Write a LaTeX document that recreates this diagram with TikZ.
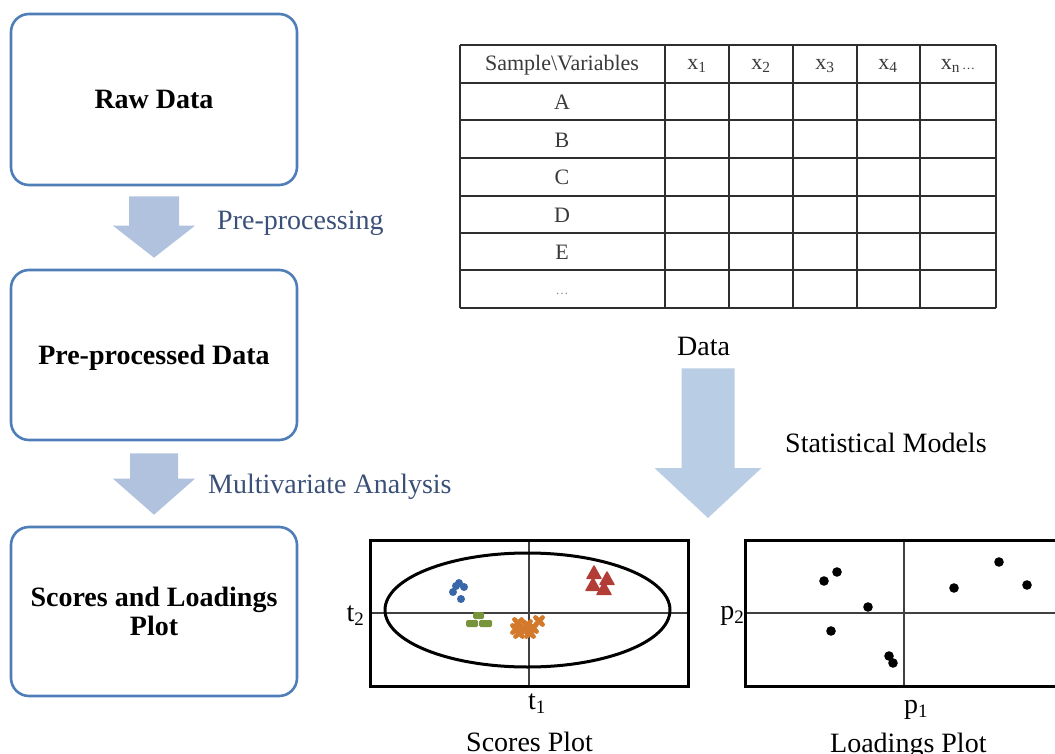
\documentclass[tikz,border=0pt]{standalone}
\usepackage{fontspec}
\setmainfont{Liberation Serif}
\usetikzlibrary{calc}

\definecolor{boxblue}{HTML}{4F7DB8}
\definecolor{arrowblue}{HTML}{B0C2DE}
\definecolor{bigarrowblue}{HTML}{B9CDE5}
\definecolor{labelblue}{HTML}{3B5078}
\definecolor{gridgray}{HTML}{2E2E2E}
\definecolor{celltext}{HTML}{3A3A3A}
\definecolor{markblue}{HTML}{3868A8}
\definecolor{markgreen}{HTML}{77933C}
\definecolor{markorange}{HTML}{D2792B}
\definecolor{markred}{HTML}{B23C36}

% block arrow: #1 style, #2 top centre, #3 tip, #4 shaft half width,
% #5 head half width, #6 head length
\newcommand{\blockarrow}[6]{%
  \fill[#1] ($(#2)+(-#4,0)$) -- ($(#2)+(#4,0)$) -- ($(#3)+(#4,-#6)$)
    -- ($(#3)+(#5,-#6)$) -- (#3) -- ($(#3)+(-#5,-#6)$)
    -- ($(#3)+(-#4,-#6)$) -- cycle;}
% axis label with a lowered index
\newcommand{\axlab}[2]{#1\raisebox{-0.32ex}{\fontsize{19}{19}\selectfont #2}}

\begin{document}
\begin{tikzpicture}[x=1pt,y=-1pt,
  stagebox/.style={draw=boxblue, line width=2.6pt, rounded corners=18pt,
    minimum width=286pt, inner sep=0pt, text depth=0pt,
    font=\fontsize{28}{29}\selectfont\bfseries, align=center},
  steplabel/.style={font=\fontsize{28}{28}\selectfont, text=labelblue, inner sep=0pt},
  caption/.style={font=\fontsize{28}{28}\selectfont, inner sep=0pt},
  tableline/.style={draw=gridgray, line width=1.6pt},
  cell/.style={font=\fontsize{22}{22}\selectfont, text=celltext, inner sep=0pt},
  plotframe/.style={draw=black, line width=3pt},
  crosshair/.style={draw=black!75, line width=1.2pt},
  axislabel/.style={font=\fontsize{28}{28}\selectfont, inner sep=0pt},
  bluemark/.style={fill=markblue},
  greenmark/.style={fill=markgreen, rounded corners=1.5pt},
  orangemark/.style={draw=markorange, line width=4.6pt, line cap=round},
  redmark/.style={fill=markred, draw=markred, line width=1.4pt, line join=round},
  loadingdot/.style={fill=black}
]
\useasboundingbox (0,0) rectangle (1055,754);
\clip (0,0) rectangle (1055,754);

% ---------- workflow boxes ----------
\node[stagebox, minimum height=171pt] (raw) at (154,99.5) {Raw Data};
\node[stagebox, minimum height=170pt] (pre) at (154,355) {Pre-processed Data};
\node[stagebox, minimum height=169pt, text depth=] (plots) at (154,611.5)
  {Scores and Loadings\\Plot};

% ---------- arrows between the boxes ----------
\coordinate (a1top) at ($(raw.south)+(0,10)$);
\coordinate (a1tip) at ($(pre.north)+(0,-11)$);
\blockarrow{arrowblue}{a1top}{a1tip}{25}{41}{32}
\node[steplabel, anchor=base west] (prep) at (217,230) {Pre-processing};

\coordinate (a2top) at ($(pre.south)+(0,12)$);
\coordinate (a2tip) at ($(plots.north)+(0,-11)$);
\blockarrow{arrowblue}{a2top}{a2tip}{24}{41}{36}
\node[steplabel, anchor=base west] (mva) at (208,493) {Multivariate Analysis};

% ---------- data table ----------
\foreach \y in {45,83,120,158,196,233,270,308}
  \draw[tableline] (460,\y) -- (996,\y);
\foreach \x in {460,665,729,793,857,920,996}
  \draw[tableline] (\x,45) -- (\x,308);

\node[cell] (hdr) at (562,65) {Sample\textbackslash Variables};
\node[cell] (x1) at (697,66) {x\textsubscript{1}};
\node[cell] (x2) at (761,66) {x\textsubscript{2}};
\node[cell] (x3) at (825,66) {x\textsubscript{3}};
\node[cell] (x4) at (888,66) {x\textsubscript{4}};
\node[cell] (xn) at (958,66) {x\textsubscript{n}{\fontsize{13}{13}\selectfont\,\dots}};
\node[cell] (ra) at (562,102) {A};
\node[cell] (rb) at (562,140) {B};
\node[cell] (rc) at (562,177) {C};
\node[cell] (rd) at (562,215) {D};
\node[cell] (re) at (562,252) {E};
\node[cell, text=black!45, font=\fontsize{13}{13}\selectfont] (rdots) at (562,294) {\dots};

\node[caption, anchor=base west] (datacap) at (677,355) {Data};

% ---------- arrow to the models ----------
\coordinate (a3tip) at (708,518);
\coordinate (a3top) at ($(a3tip |- datacap.south)+(0,13)$);
\blockarrow{bigarrowblue}{a3top}{a3tip}{26.5}{53.5}{50}
\node[caption, anchor=base west] (stat) at (785,452) {Statistical Models};

% ---------- scores plot ----------
\draw[crosshair] (529,540) -- (529,686);
\draw[crosshair] (370,613) -- (688,613);
\draw[line width=3pt] (527.5,610) ellipse [x radius=142.5, y radius=57];
\draw[plotframe] (370,540) rectangle (688,686);

\foreach \px/\py in {456/586, 464/587, 453/592, 461/599, 459/583}
  \fill[bluemark] (\px,\py) circle [radius=4];
\fill[greenmark] (473,612) rectangle (484,619);
\fill[greenmark] (466,620) rectangle (478,627);
\fill[greenmark] (479,620) rectangle (492,627);
\foreach \px/\py in {518/623, 527/625, 539/621, 519/633, 530/633, 516/629, 524/630, 533/628}
  \draw[orangemark] (\px-3.6,\py-3.6) -- (\px+3.6,\py+3.6)
                    (\px-3.6,\py+3.6) -- (\px+3.6,\py-3.6);
\foreach \px/\py in {594/573, 607/579, 593/585, 604/589}
  \filldraw[redmark] (\px-7,\py+5.5) -- (\px+7,\py+5.5) -- (\px,\py-7) -- cycle;

\node[axislabel, anchor=base east] (t2) at (364,621) {\axlab{t}{2}};
\node[axislabel, anchor=base west] (t1) at (528,709) {\axlab{t}{1}};
\node[caption, anchor=base west] (scorescap) at (466,751) {Scores Plot};

% ---------- loadings plot ----------
\draw[crosshair] (904,540) -- (904,686);
\draw[crosshair] (745,613) -- (1060,613);
\draw[plotframe] (745,540) rectangle (1060,686);
\foreach \px/\py in {824/581, 837/572, 868/607, 831/631, 889/656, 893/663,
                     954/588, 999/562, 1027/585}
  \fill[loadingdot] (\px,\py) circle [radius=4.8];

\node[axislabel, anchor=base east] (p2) at (744,619) {\axlab{p}{2}};
\node[axislabel, anchor=base west] (p1) at (904,713) {\axlab{p}{1}};
\node[caption, anchor=base west] (loadcap) at (830,752) {Loadings Plot};
\end{tikzpicture}
\end{document}
